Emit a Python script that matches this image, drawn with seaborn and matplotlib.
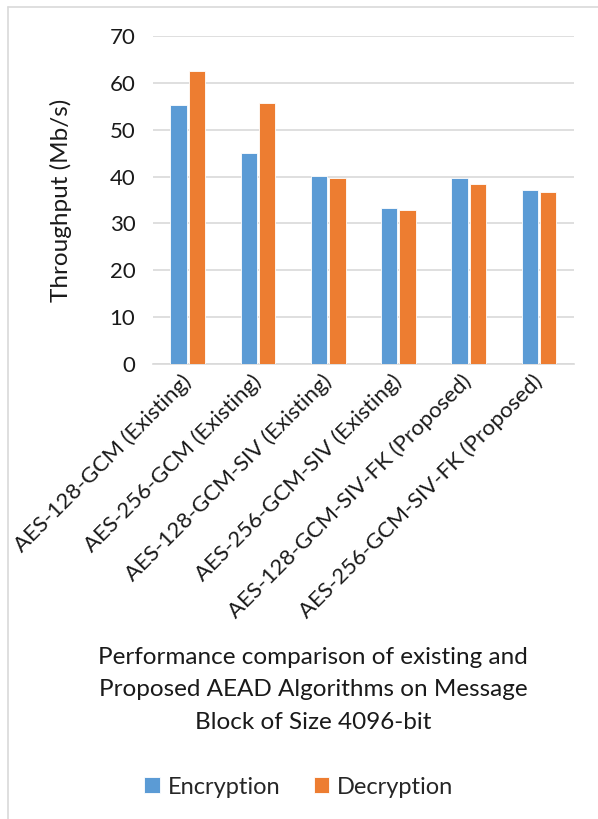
import matplotlib
matplotlib.use("Agg")
import matplotlib.pyplot as plt
from matplotlib.lines import Line2D
import seaborn as sns
import pandas as pd

algorithms = [
    "AES-128-GCM (Existing)",
    "AES-256-GCM (Existing)",
    "AES-128-GCM-SIV (Existing)",
    "AES-256-GCM-SIV (Existing)",
    "AES-128-GCM-SIV-FK (Proposed)",
    "AES-256-GCM-SIV-FK (Proposed)",
]
encryption = [55.3, 45.0, 40.1, 33.2, 39.7, 37.2]
decryption = [62.5, 55.7, 39.6, 32.9, 38.4, 36.7]
series_names = ["Encryption", "Decryption"]
yticks = [0, 10, 20, 30, 40, 50, 60, 70]

df = pd.DataFrame({
    "Algorithm": algorithms * 2,
    "Throughput": encryption + decryption,
    "Operation": [series_names[0]] * len(algorithms) + [series_names[1]] * len(algorithms),
})

sns.set_theme(style="white")
plt.rcParams["font.family"] = ["Lato", "DejaVu Sans"]

FS = 17
TEXT = "#1a1a1a"
W, H = 598, 819
fig = plt.figure(figsize=(W / 100, H / 100), dpi=100)
ax = fig.add_axes([152.7 / W, 1 - 364 / H, (574 - 152.7) / W, (364 - 36) / H])

palette = {"Encryption": "#5B9BD5", "Decryption": "#ED7D31"}
sns.barplot(data=df, x="Algorithm", y="Throughput", hue="Operation",
            palette=palette, width=0.523, gap=0.11, ax=ax,
            edgecolor="white", linewidth=0.6, saturation=1, zorder=3)

ax.set_ylim(0, 70)
ax.set_yticks(yticks)
ax.set_yticklabels([str(t) for t in yticks], fontsize=16, color=TEXT)
ax.tick_params(axis="y", length=0, pad=12.5)
ax.tick_params(axis="x", length=0, pad=10)
ax.set_xlim(-0.5, len(algorithms) - 0.5)
ax.yaxis.grid(True, color="#D9D9D9", linewidth=1.2, zorder=0)
ax.set_axisbelow(True)
for s in ["left", "right", "top"]:
    ax.spines[s].set_visible(False)
ax.spines["bottom"].set_color("#D9D9D9")
ax.spines["bottom"].set_linewidth(1.2)

ax.set_xticks(range(len(algorithms)))
ax.set_xticklabels(algorithms, rotation=45, ha="right", va="center",
                   rotation_mode="anchor", fontsize=16, color=TEXT)
ax.set_xlabel("")
ax.set_ylabel("Throughput (Mb/s)", fontsize=FS + 0.5, color=TEXT)
ax.yaxis.set_label_coords((72 - 152.7) / (574 - 152.7), 0.5)

handles, labels = ax.get_legend_handles_labels()
ax.legend_.remove()

fig.text(313 / W, 1 - 690 / H,
         "Performance comparison of existing and\nProposed AEAD Algorithms on Message\nBlock of Size 4096-bit",
         ha="center", va="center", fontsize=FS + 0.5, color=TEXT, linespacing=1.7)

fig.legend(handles, labels, loc="center", bbox_to_anchor=(299 / W, 1 - 787 / H),
           ncol=2, frameon=False, fontsize=FS, handlelength=0.65, handleheight=0.65,
           handletextpad=0.35, columnspacing=1.4)

# chart-area border (left and top edges)
fig.add_artist(Line2D([8 / W, 8 / W], [0, 1 - 7 / H], transform=fig.transFigure,
                      color="#D9D9D9", linewidth=1.2))
fig.add_artist(Line2D([8 / W, 1], [1 - 7 / H, 1 - 7 / H], transform=fig.transFigure,
                      color="#D9D9D9", linewidth=1.2))

fig.savefig("out.png", dpi=100, facecolor="white")
